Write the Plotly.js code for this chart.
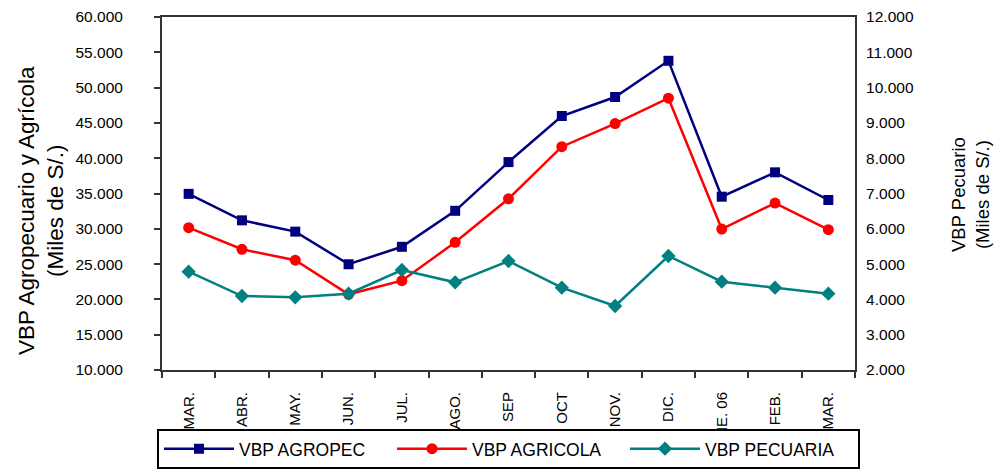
<!DOCTYPE html>
<html>
<head>
<meta charset="utf-8">
<script src="https://cdn.plot.ly/plotly-3.0.1.min.js"></script>
<style>html,body{margin:0;padding:0;background:#fff;}#chart{width:997px;height:470px;}</style>
</head>
<body>
<div id="chart"></div>
<script>
var months = ["MAR.", "ABR.", "MAY.", "JUN.", "JUL.", "AGO.", "SEP", "OCT", "NOV.", "DIC.", "ENE. 06", "FEB.", "MAR."];
var vbpAgropec = [34950, 31200, 29600, 24980, 27450, 32550, 39450, 45980, 48670, 53800, 34550, 38000, 34080];
var vbpAgricola = [30160, 27100, 25550, 20720, 22650, 28090, 34250, 41630, 44900, 48500, 29970, 33650, 29880];
var vbpPecuaria = [4785, 4096, 4060, 4162, 4833, 4484, 5088, 4332, 3813, 5230, 4502, 4332, 4162];
var leftTicks = [10000, 15000, 20000, 25000, 30000, 35000, 40000, 45000, 50000, 55000, 60000];
var rightTicks = [2000, 3000, 4000, 5000, 6000, 7000, 8000, 9000, 10000, 11000, 12000];

var idx = months.map(function (m, i) { return i; });
var bounds = [];
for (var i = 0; i <= months.length; i++) bounds.push(i - 0.5);

var FONT = "Liberation Sans, Arial, sans-serif";
var AX = "#333333";

var traces = [
  {x: idx, y: vbpAgropec, name: "VBP AGROPEC", type: "scatter", mode: "lines+markers",
   line: {color: "#000080", width: 2.5}, marker: {symbol: "square", size: 10, color: "#000080"}},
  {x: idx, y: vbpAgricola, name: "VBP AGRICOLA", type: "scatter", mode: "lines+markers",
   line: {color: "#FF0000", width: 2.5}, marker: {symbol: "circle", size: 11, color: "#FF0000"}},
  {x: idx, y: vbpPecuaria, name: "VBP PECUARIA", type: "scatter", mode: "lines+markers", yaxis: "y2",
   line: {color: "#008080", width: 2.5}, marker: {symbol: "diamond", size: 11, color: "#008080"}}
];

var layout = {
  width: 997, height: 470,
  margin: {l: 162, r: 142, t: 0, b: 100, pad: 0},
  paper_bgcolor: "#fff", plot_bgcolor: "#fff",
  separators: ",.",
  font: {family: FONT, color: "#000", size: 15},
  showlegend: true,
  xaxis: {
    range: [-0.5, months.length - 0.5], tickmode: "array", tickvals: idx, ticktext: months,
    tickangle: -90, ticks: "", ticklabelstandoff: 14, showgrid: false, zeroline: false,
    showline: true, linecolor: AX, linewidth: 2, mirror: true, automargin: false,
    tickfont: {family: FONT, size: 15, color: "#000"},
    minor: {tickmode: "array", tickvals: bounds, ticks: "outside", ticklen: 6, tickwidth: 2, tickcolor: AX, showgrid: false}
  },
  yaxis: {
    domain: [0, 0.954],
    range: [10000, 60000], tickmode: "array", tickvals: leftTicks, tickformat: ",.0f",
    ticks: "outside", ticklen: 6, tickwidth: 2, tickcolor: AX, ticklabelstandoff: 28,
    showgrid: false, zeroline: false, showline: true, linecolor: AX, linewidth: 2, automargin: false,
    tickfont: {family: FONT, size: 15.5, color: "#000"}
  },
  yaxis2: {
    domain: [0, 0.954],
    range: [2000, 12000], tickmode: "array", tickvals: rightTicks, tickformat: ",.0f",
    overlaying: "y", side: "right", ticks: "", ticklabelstandoff: 6, automargin: false,
    showgrid: false, zeroline: false, showline: true, linecolor: AX, linewidth: 2,
    tickfont: {family: FONT, size: 15.5, color: "#000"}
  },
  legend: {
    orientation: "h",
    x: -0.0072, xanchor: "left", y: -0.159, yanchor: "top",
    bordercolor: "#000", borderwidth: 2, bgcolor: "#fff",
    font: {family: FONT, size: 17.5, color: "#000"},
    entrywidth: 148, entrywidthmode: "pixels", itemwidth: 70, traceorder: "normal"
  },
  annotations: [
    {text: "VBP Agropecuario y Agrícola<br>(Miles de S/.)", xref: "paper", yref: "paper",
     x: -0.1745, y: 0.4297, xanchor: "center", yanchor: "middle", textangle: -90, showarrow: false,
     font: {family: FONT, size: 22.5, color: "#000"}},
    {text: "VBP Pecuario<br>(Miles de S/.)", xref: "paper", yref: "paper",
     x: 1.1674, y: 0.473, xanchor: "center", yanchor: "middle", textangle: -90, showarrow: false,
     font: {family: FONT, size: 18.5, color: "#000"}}
  ]
};

Plotly.newPlot("chart", traces, layout, {displayModeBar: false, staticPlot: true});
</script>
</body>
</html>
